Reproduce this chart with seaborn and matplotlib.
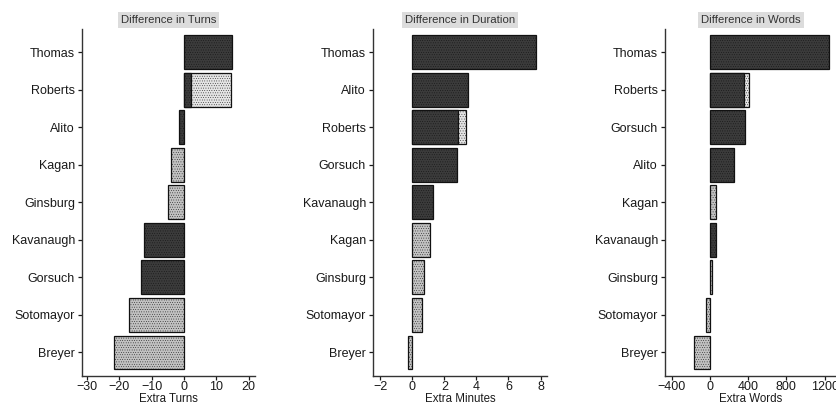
import matplotlib
matplotlib.use("Agg")
import matplotlib.pyplot as plt
import numpy as np
import pandas as pd
import seaborn as sns

# Difference in Turns
turns_names = ['Thomas', 'Roberts', 'Alito', 'Kagan', 'Ginsburg', 'Kavanaugh', 'Gorsuch', 'Sotomayor', 'Breyer']
turns_values = [15.0, 14.6, -1.5, -4.0, -5.0, -12.3, -13.4, -17.0, -21.7]
turns_roberts_dark = 2.2

# Difference in Duration (minutes)
dur_names = ['Thomas', 'Alito', 'Roberts', 'Gorsuch', 'Kavanaugh', 'Kagan', 'Ginsburg', 'Sotomayor', 'Breyer']
dur_values = [7.7, 3.5, 3.38, 2.78, 1.3, 1.12, 0.75, 0.6, -0.25]
dur_roberts_dark = 2.88

# Difference in Words
words_names = ['Thomas', 'Roberts', 'Gorsuch', 'Alito', 'Kagan', 'Kavanaugh', 'Ginsburg', 'Sotomayor', 'Breyer']
words_values = [1245, 405, 370, 255, 62, 66, 18, -45, -167]
words_roberts_dark = 358

conservative = ['Thomas', 'Alito', 'Gorsuch', 'Kavanaugh']

DARK = '#3b3b3b'
LIGHT = '#c2c2c2'
PALE = '#e4e4e4'

plt.rcParams['font.family'] = ['Liberation Sans', 'DejaVu Sans']
plt.rcParams['hatch.linewidth'] = 0.25

def colour(name):
    if name == 'Roberts':
        return PALE
    return DARK if name in conservative else LIGHT

def panel(ax, names, values, roberts_dark, title, xlabel, xlim, xticks):
    df = pd.DataFrame({'name': names, 'value': values})
    pal = {n: colour(n) for n in names}
    sns.barplot(data=df, x='value', y='name', hue='name', palette=pal, order=names,
                orient='h', width=0.9, legend=False, edgecolor='#111111',
                linewidth=0.9, ax=ax)
    # dark part of Roberts' bar
    part = pd.DataFrame({'name': ['Roberts'], 'value': [roberts_dark]})
    sns.barplot(data=part, x='value', y='name', order=names, orient='h', width=0.9,
                color=DARK, edgecolor='#111111', linewidth=0.9, ax=ax)
    for p in ax.patches:
        p.set_hatch('.......')
    ax.set_xlim(*xlim)
    ax.set_ylim(8.62, -0.62)
    ax.set_xticks(xticks)
    ax.set_ylabel('')
    ax.set_xlabel(xlabel, fontsize=8.3, labelpad=0, color='#1a1a1a')
    ax.tick_params(axis='both', labelsize=9, length=3, width=0.9, colors='#1a1a1a', pad=2)
    ax.tick_params(axis='x', pad=1)
    for s in ['top', 'right']:
        ax.spines[s].set_visible(False)
    for s in ['left', 'bottom']:
        ax.spines[s].set_linewidth(1.0)
        ax.spines[s].set_color('#333333')
    ax.text(0.5, 1.026, title, transform=ax.transAxes, ha='center', va='center',
            fontsize=8.2, color='#333333',
            bbox=dict(boxstyle='square,pad=0.25', fc='#dcdcdc', ec='none'))

fig = plt.figure(figsize=(8.37, 4.07), dpi=100)
bottom, height = 0.077, 0.852
ax1 = fig.add_axes([0.098, bottom, 0.2067, height])
ax2 = fig.add_axes([0.4456, bottom, 0.2079, height])
ax3 = fig.add_axes([0.7945, bottom, 0.2055, height])

panel(ax1, turns_names, turns_values, turns_roberts_dark, 'Difference in Turns',
      'Extra Turns', (-31.5, 22), [-30, -20, -10, 0, 10, 20])
panel(ax2, dur_names, dur_values, dur_roberts_dark, 'Difference in Duration',
      'Extra Minutes', (-2.45, 8.4), [-2, 0, 2, 4, 6, 8])
panel(ax3, words_names, words_values, words_roberts_dark, 'Difference in Words',
      'Extra Words', (-470, 1330), [-400, 0, 400, 800, 1200])

fig.savefig('out.png', dpi=100)
